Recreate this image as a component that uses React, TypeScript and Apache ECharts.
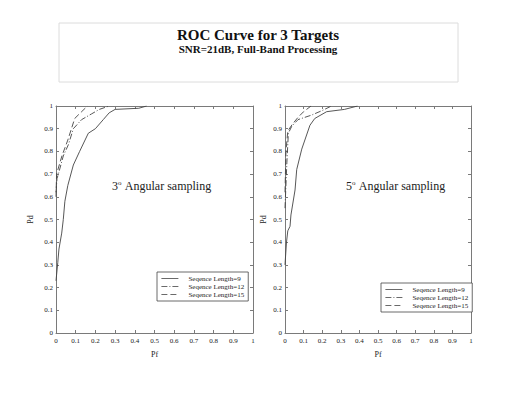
import React, { useEffect, useRef } from "react";
import * as echarts from "echarts";

const seriesNames = ["Seqence Length=9", "Seqence Length=12", "Seqence Length=15"];
const axisTicks = ["0", "0.1", "0.2", "0.3", "0.4", "0.5", "0.6", "0.7", "0.8", "0.9", "1"];

// Left plot: 3 degree angular sampling
const left9Pf = [0, 0.009, 0.015, 0.029, 0.037, 0.045, 0.06, 0.088, 0.12, 0.164, 0.2, 0.24, 0.27, 0.3, 0.42, 0.46];
const left9Pd = [0.23, 0.31, 0.37, 0.44, 0.5, 0.58, 0.65, 0.74, 0.8, 0.88, 0.9, 0.94, 0.97, 0.985, 0.99, 1.0];
const left12Pf = [0, 0.005, 0.012, 0.037, 0.063, 0.088, 0.13, 0.18, 0.22, 0.27];
const left12Pd = [0.62, 0.68, 0.7, 0.78, 0.83, 0.9, 0.94, 0.965, 0.985, 1.0];
const left15Pf = [0, 0.003, 0.03, 0.06, 0.095, 0.13, 0.16];
const left15Pd = [0.6, 0.7, 0.78, 0.85, 0.945, 0.975, 1.0];

// Right plot: 5 degree angular sampling
const right9Pf = [0, 0.008, 0.015, 0.027, 0.032, 0.054, 0.063, 0.09, 0.134, 0.16, 0.224, 0.32, 0.39];
const right9Pd = [0.3, 0.4, 0.45, 0.47, 0.52, 0.63, 0.72, 0.81, 0.915, 0.945, 0.975, 0.985, 1.0];
const right12Pf = [0, 0.01, 0.018, 0.036, 0.07, 0.143, 0.2, 0.25];
const right12Pd = [0.55, 0.75, 0.88, 0.91, 0.94, 0.96, 0.98, 1.0];
const right15Pf = [0, 0.005, 0.015, 0.04, 0.07, 0.1, 0.14];
const right15Pd = [0.62, 0.8, 0.89, 0.92, 0.95, 0.975, 1.0];

const zip = (xs: number[], ys: number[]) => xs.map((x, i) => [x, ys[i]]);

const FONT = "Liberation Serif";
const FRAME = "#7a7a7a";
const CURVE = "#444";
const dashTypes: any[] = ["solid", [6, 2, 1, 2], [6, 3]];

export default function App() {
  const ref = useRef<HTMLDivElement>(null);
  useEffect(() => {
    const chart = echarts.init(ref.current!, undefined, { renderer: "svg" });
    const grids = [
      { left: 56, top: 106, width: 197, height: 227 },
      { left: 285, top: 106, width: 186, height: 227 },
    ];
    const mkX = (gi: number, pos: "bottom" | "top") => ({
      type: "value",
      gridIndex: gi,
      position: pos,
      min: 0,
      max: 1,
      interval: 0.1,
      name: pos === "bottom" ? "Pf" : "",
      nameLocation: "middle",
      nameGap: 17,
      nameTextStyle: { fontFamily: FONT, fontSize: 8, color: "#222" },
      axisLine: { show: true, onZero: false, lineStyle: { color: FRAME, width: 1 } },
      axisTick: { show: true, inside: true, length: 3, lineStyle: { color: FRAME } },
      axisLabel: {
        show: pos === "bottom",
        fontFamily: FONT,
        fontSize: 7,
        color: "#222",
        margin: 4,
        formatter: (v: number) => axisTicks[Math.round(v * 10)],
      },
      splitLine: { show: false },
    });
    const mkY = (gi: number, pos: "left" | "right", gap: number) => ({
      type: "value",
      gridIndex: gi,
      position: pos,
      min: 0,
      max: 1,
      interval: 0.1,
      name: pos === "left" ? "Pd" : "",
      nameLocation: "middle",
      nameGap: gap,
      nameRotate: 90,
      nameTextStyle: { fontFamily: FONT, fontSize: 8, color: "#222" },
      axisLine: { show: true, onZero: false, lineStyle: { color: FRAME, width: 1 } },
      axisTick: { show: true, inside: true, length: 3, lineStyle: { color: FRAME } },
      axisLabel: {
        show: pos === "left",
        fontFamily: FONT,
        fontSize: 7,
        color: "#222",
        margin: 3,
        formatter: (v: number) => axisTicks[Math.round(v * 10)],
      },
      splitLine: { show: false },
    });
    const data = [
      [zip(left9Pf, left9Pd), zip(left12Pf, left12Pd), zip(left15Pf, left15Pd)],
      [zip(right9Pf, right9Pd), zip(right12Pf, right12Pd), zip(right15Pf, right15Pd)],
    ];
    const series: any[] = [];
    data.forEach((grp, gi) => {
      grp.forEach((d, si) => {
        series.push({
          type: "line",
          name: seriesNames[si],
          xAxisIndex: gi * 2,
          yAxisIndex: gi * 2,
          data: d,
          showSymbol: false,
          symbol: "none",
          lineStyle: { color: CURVE, width: 0.9, type: dashTypes[si] },
          itemStyle: { color: CURVE },
        });
      });
    });
    const mkLegend = (left: number, top: number) => ({
      left,
      top,
      orient: "vertical",
      data: seriesNames,
      selectedMode: false,
      backgroundColor: "#fff",
      borderColor: "#444",
      borderWidth: 0.8,
      borderRadius: 0,
      padding: [3, 4, 3, 4],
      itemGap: 1,
      itemWidth: 17,
      itemHeight: 8,
      itemStyle: { opacity: 0 },
      lineStyle: { width: 0.8, color: CURVE },
      textStyle: { fontFamily: FONT, fontSize: 7, color: "#222", padding: [0, 0, 0, 5] },
    });
    const annot = (x: number, deg: string) => ({
      type: "text",
      left: x,
      top: 179,
      style: {
        text: deg + "{s|o} Angular sampling",
        font: `12px "${FONT}"`,
        fill: "#222",
        rich: { s: { fontSize: 7, fontFamily: FONT, padding: [0, 1, 7, 0] } },
      },
    });
    chart.setOption({
      animation: false,
      backgroundColor: "#fff",
      grid: grids,
      xAxis: [mkX(0, "bottom"), mkX(0, "top"), mkX(1, "bottom"), mkX(1, "top")],
      yAxis: [mkY(0, "left", 22), mkY(0, "right", 0), mkY(1, "left", 18), mkY(1, "right", 0)],
      legend: [mkLegend(157, 272), mkLegend(381, 283)],
      series,
      graphic: [
        {
          type: "rect",
          shape: { x: 59, y: 23, width: 399, height: 59 },
          style: { fill: "#fff", stroke: "#dcdcdc", lineWidth: 1 },
          z: -1,
        },
        {
          type: "text",
          x: 258,
          y: 35,
          style: {
            text: "ROC Curve for 3 Targets",
            font: `bold 15px "${FONT}"`,
            fill: "#111",
            align: "center",
            verticalAlign: "middle",
          },
        },
        {
          type: "text",
          x: 258,
          y: 49,
          style: {
            text: "SNR=21dB, Full-Band Processing",
            font: `bold 11px "${FONT}"`,
            fill: "#111",
            align: "center",
            verticalAlign: "middle",
          },
        },
        annot(112, "3"),
        annot(346, "5"),
      ],
    });
    return () => chart.dispose();
  }, []);
  return (
    <div
      ref={ref}
      style={{ position: "absolute", left: 0, top: 0, width: 517, height: 400, background: "#fff" }}
    />
  );
}
